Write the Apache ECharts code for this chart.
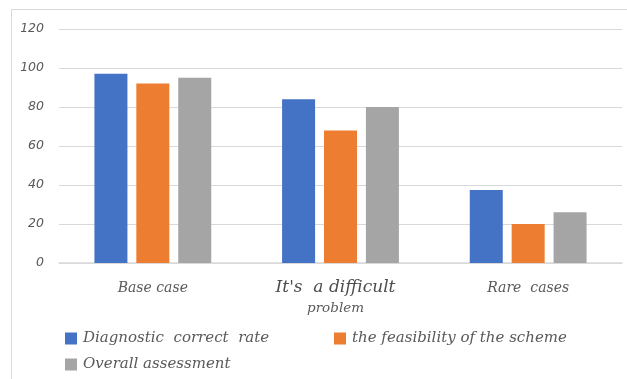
<!DOCTYPE html>
<html>
<head>
<meta charset="utf-8">
<script src="https://cdn.jsdelivr.net/npm/echarts@6/dist/echarts.min.js"></script>
<style>
  html, body { margin: 0; padding: 0; background: #ffffff; }
  #chart { width: 627px; height: 379px; }
</style>
</head>
<body>
<div id="chart"></div>
<script>
// Case categories on the x axis
const categories = ['Base case', "It's  a difficult", 'Rare  cases'];

// Scores per category
const diagnosticRate = [97, 84, 37.5];
const feasibility = [92, 68, 20];
const overallAssessment = [95, 80, 26];

// Series names as shown in the legend
const seriesNames = ['Diagnostic  correct  rate', 'the feasibility of the scheme', 'Overall assessment'];

// Y axis ticks
const yTicks = [0, 20, 40, 60, 80, 100, 120];

const colors = ['#4472C4', '#ED7D31', '#A5A5A5'];
const textColor = '#595959';
const serif = '"DejaVu Serif", serif';

const chart = echarts.init(document.getElementById('chart'), null, { renderer: 'canvas' });

function legendAt(name, left, top) {
  return {
    show: true,
    data: [name],
    left: left,
    top: top,
    itemWidth: 12,
    itemHeight: 12,
    itemGap: 0,
    icon: 'rect',
    textStyle: { color: textColor, fontFamily: serif, fontStyle: 'italic', fontSize: 15, padding: [0, 0, 0, 1] },
    padding: 0,
    selectedMode: false
  };
}

chart.setOption({
  animation: false,
  backgroundColor: '#ffffff',
  color: colors,
  graphic: [{
    type: 'rect',
    shape: { x: 11.5, y: 9.5, width: 640, height: 400 },
    style: { fill: 'none', stroke: '#d9d9d9', lineWidth: 1 },
    silent: true
  }],
  legend: [
    legendAt(seriesNames[0], 65, 331),
    legendAt(seriesNames[1], 334, 331),
    legendAt(seriesNames[2], 65, 357)
  ],
  grid: { left: 59, right: 5, top: 29, bottom: 116 },
  xAxis: {
    type: 'category',
    data: categories,
    axisLine: { show: true, lineStyle: { color: '#d9d9d9', width: 1.5 } },
    axisTick: { show: false },
    axisLabel: {
      margin: 15,
      interval: 0,
      formatter: function (v) {
        if (v.indexOf('difficult') >= 0) return '{h|' + v + '}\n{b|problem}';
        return '{a|' + v + '}';
      },
      rich: {
        a: { color: textColor, fontFamily: serif, fontStyle: 'italic', fontSize: 14, lineHeight: 20 },
        h: { color: '#4d4d4d', fontFamily: serif, fontStyle: 'italic', fontSize: 17, lineHeight: 20, padding: [0, 10, 0, 0] },
        b: { color: textColor, fontFamily: serif, fontStyle: 'italic', fontSize: 13.5, lineHeight: 20, padding: [0, 10, 0, 0] }
      }
    }
  },
  yAxis: {
    type: 'value',
    min: yTicks[0],
    max: yTicks[yTicks.length - 1],
    interval: 20,
    axisLine: { show: false },
    axisTick: { show: false },
    splitLine: { lineStyle: { color: '#d9d9d9', width: 1 } },
    axisLabel: {
      margin: 15,
      color: textColor,
      fontFamily: '"DejaVu Sans", sans-serif',
      fontStyle: 'italic',
      fontSize: 12.5
    }
  },
  series: [
    { name: seriesNames[0], type: 'bar', data: diagnosticRate, barWidth: 33, barGap: '27%' },
    { name: seriesNames[1], type: 'bar', data: feasibility, barWidth: 33, barGap: '27%' },
    { name: seriesNames[2], type: 'bar', data: overallAssessment, barWidth: 33, barGap: '27%' }
  ]
});
</script>
</body>
</html>
